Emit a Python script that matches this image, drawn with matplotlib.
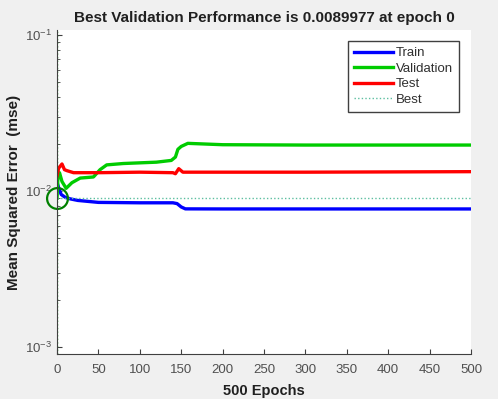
import numpy as np
import matplotlib
matplotlib.use('Agg')
import matplotlib.pyplot as plt
from matplotlib.ticker import LogLocator, NullFormatter

plt.rcParams['font.family'] = ['Liberation Sans', 'DejaVu Sans']

# values (mse per epoch, breakpoints)
train_ep = [0, 2, 5, 10, 16, 25, 50, 100, 140, 145, 150, 155, 200, 300, 400, 500]
train_mse = [0.0114, 0.0105, 0.0095, 0.0091, 0.0089, 0.0087, 0.00845, 0.0084, 0.0084,
             0.0083, 0.0079, 0.00768, 0.00767, 0.00767, 0.00767, 0.00767]

val_ep = [0, 1, 3, 6, 11, 18, 28, 44, 52, 60, 80, 120, 138, 143, 146, 150, 158, 200, 300, 500]
val_mse = [0.0089977, 0.0120, 0.0131, 0.0115, 0.0104, 0.0113, 0.0121, 0.0123, 0.0137, 0.0147,
           0.0150, 0.0153, 0.0157, 0.0165, 0.0185, 0.0193, 0.0202, 0.0198, 0.0197, 0.0197]

test_ep = [0, 2, 6, 9, 12, 20, 50, 100, 140, 143, 147, 152, 200, 300, 500]
test_mse = [0.0125, 0.0140, 0.0149, 0.0137, 0.0135, 0.0131, 0.0131, 0.0132, 0.0131,
            0.0129, 0.0139, 0.0132, 0.0132, 0.0132, 0.0133]

best_epoch = 0
best_perf = 0.0089977
n_epochs = 500

fig = plt.figure(figsize=(4.98, 3.99), dpi=100, facecolor='#f0f0f0')
ax = fig.add_axes([0.1145, 0.1128, 0.8313, 0.812])

ax.plot(train_ep, train_mse, color='#0000ff', lw=2.4, label='Train')
ax.plot(val_ep, val_mse, color='#00cc00', lw=2.4, label='Validation')
ax.plot(test_ep, test_mse, color='#ff0000', lw=2.4, label='Test')
ax.axhline(best_perf, color='#5cbfa0', lw=1, ls=(0, (1, 1.6)), label='Best')
ax.axvline(best_epoch, color='#00a000', lw=1, ls=(0, (1, 1.6)))
ax.plot([best_epoch], [best_perf], 'o', ms=15, mfc='none', mec='#008000', mew=1.6,
        clip_on=False)

ax.set_yscale('log')
ax.set_xlim(0, n_epochs)
ax.set_ylim(10 ** -3.045, 10 ** -0.968)
ax.set_xticks(np.arange(0, 501, 50))
ax.yaxis.set_major_locator(LogLocator(base=10))
ax.yaxis.set_minor_locator(LogLocator(base=10, subs=np.arange(2, 10)))
ax.yaxis.set_minor_formatter(NullFormatter())

for s in ['top', 'right']:
    ax.spines[s].set_visible(False)
for s in ['left', 'bottom']:
    ax.spines[s].set_color('#404040')
ax.tick_params(direction='in', colors='#404040', labelcolor='#505050', labelsize=9.5)
ax.tick_params(axis='x', pad=7)
ax.tick_params(which='minor', direction='in', colors='#404040', length=2)

ax.set_title('Best Validation Performance is 0.0089977 at epoch 0',
             fontsize=11, fontweight='bold', color='#202020', pad=6)
ax.set_xlabel('500 Epochs', fontsize=10.5, fontweight='bold', color='#202020', labelpad=6)
ax.set_ylabel('Mean Squared Error  (mse)', fontsize=11, fontweight='bold', color='#202020',
              labelpad=3)

leg = ax.legend(loc='upper right', bbox_to_anchor=(0.971, 0.966), fontsize=9.5,
                fancybox=False, framealpha=1, edgecolor='#404040', handlelength=3.0,
                handletextpad=0.2, borderpad=0.45, labelspacing=0.25, borderaxespad=0)
for t in leg.get_texts():
    t.set_color('#303030')

fig.savefig('out.png', dpi=100, facecolor=fig.get_facecolor())
